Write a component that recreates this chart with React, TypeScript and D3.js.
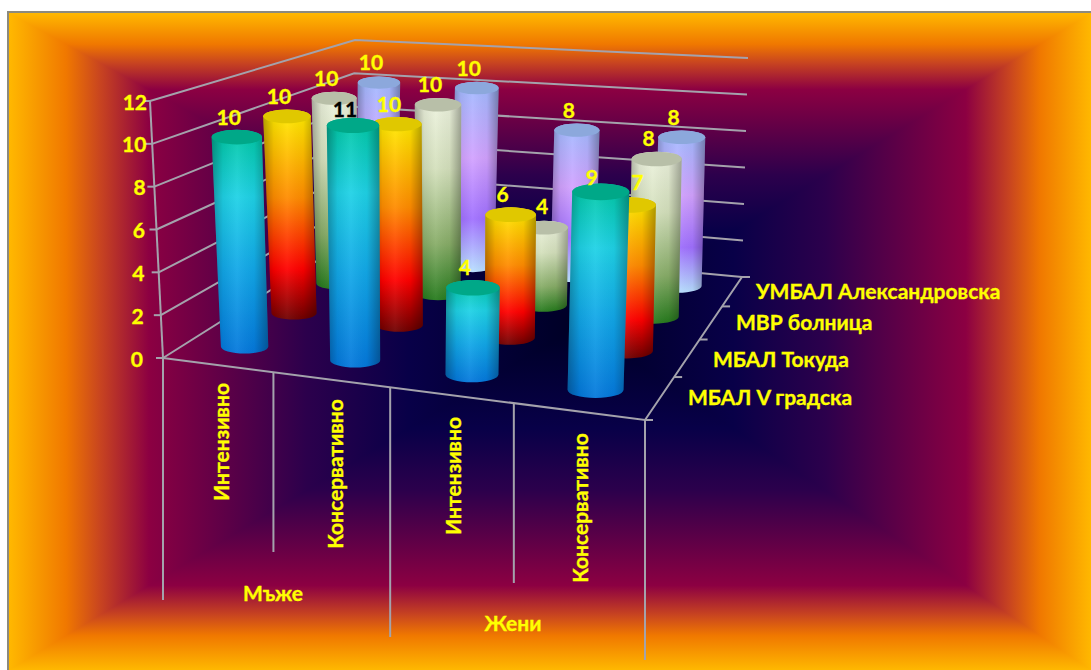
import React from "react";
import * as d3 from "d3";

// Treatment categories along the front of the floor, grouped by sex.
const categories = ["Мъже Интензивно", "Мъже Консервативно", "Жени Интензивно", "Жени Консервативно"];
const categoryLabels = ["Интензивно", "Консервативно", "Интензивно", "Консервативно"];
const groupLabels = ["Мъже", "Жени"];
// Hospitals, front row first.
const hospitals = ["МБАЛ V градска", "МБАЛ Токуда", "МВР болница", "УМБАЛ Александровска"];

const vGradska = [10, 11, 4, 9];
const tokuda = [10, 10, 6, 7];
const mvr = [10, 10, 4, 8];
const umbal = [10, 10, 8, 8];
const seriesValues = [vGradska, tokuda, mvr, umbal];

const valueTicks = [0, 2, 4, 6, 8, 10, 12];

const W = 1091;
const H = 670;

type P = [number, number];

// Maps the unit square onto a quad given as (0,0), (1,0), (1,1), (0,1).
function quadMap(q: P[]) {
  const [[x0, y0], [x1, y1], [x2, y2], [x3, y3]] = q;
  const dx1 = x1 - x2, dx2 = x3 - x2, sx = x0 - x1 + x2 - x3;
  const dy1 = y1 - y2, dy2 = y3 - y2, sy = y0 - y1 + y2 - y3;
  const den = dx1 * dy2 - dx2 * dy1;
  const g = (sx * dy2 - dx2 * sy) / den;
  const h = (dx1 * sy - sx * dy1) / den;
  const a = x1 - x0 + g * x1, b = x3 - x0 + h * x3;
  const d = y1 - y0 + g * y1, e = y3 - y0 + h * y3;
  return (u: number, v: number): P => {
    const w = g * u + h * v + 1;
    return [(a * u + b * v + x0) / w, (d * u + e * v + y0) / w];
  };
}

// The plot box: floor and ceiling corners in the camera's view.
const floorQuad: P[] = [[163, 358], [645, 420], [742, 277], [350, 240]];
const ceilQuad: P[] = [[150, 101], [656, 148], [748, 58], [355, 40]];
const floorMap = quadMap(floorQuad);
const ceilPerspective = quadMap(ceilQuad);

// The ceiling foreshortens horizontally far less than its outline suggests,
// so its x is mostly bilinear while its y stays projective.
const ceilMap = (u: number, v: number): P => {
  const [px, py] = ceilPerspective(u, v);
  const left = ceilQuad[0][0] + (ceilQuad[3][0] - ceilQuad[0][0]) * v;
  const right = ceilQuad[1][0] + (ceilQuad[2][0] - ceilQuad[1][0]) * v;
  return [0.3 * px + 0.7 * (left + (right - left) * u), py];
};

const uScale = d3.scaleBand<string>().domain(categories).range([0, 1]);
const vScale = d3.scaleBand<string>().domain(hospitals).range([0, 1]);
const hScale = d3.scaleLinear().domain([0, 12]).range([0, 1]);
const tickLabelX = d3.scaleLinear().domain([0, 12]).range([143, 147]);

function project(u: number, v: number, value: number): P {
  const f = floorMap(u, v);
  const c = ceilMap(u, v);
  const t = hScale(value);
  return [f[0] + (c[0] - f[0]) * t, f[1] + (c[1] - f[1]) * t];
}

const line = d3.line<P>();

const columnRadius = 0.055;
const ellipseRatio = 0.29;

const ramps: [number, string][][] = [
  [[0, "#00c8a2"], [0.3, "#1fd2e6"], [0.62, "#12a8e8"], [1, "#0478dc"]],
  [[0, "#fff000"], [0.42, "#ff8c00"], [0.76, "#ff0000"], [1, "#6e0000"]],
  [[0, "#eef3e0"], [0.35, "#d4e0bc"], [0.72, "#88ad68"], [1, "#257a1c"]],
  [[0, "#9fbcff"], [0.4, "#d2a2ff"], [0.72, "#a070ff"], [1, "#b8e0ff"]],
];
const capColors = ["#00a888", "#e0c800", "#b8bfa8", "#8ca8dc"];

// Colour by distance from the frame edge: 0 at the edge, 1 at the centre.
const frameStops: [number, string][] = [
  [0, "#ffb800"],
  [0.1, "#f07800"],
  [0.16, "#c84420"],
  [0.245, "#8c0042"],
  [0.52, "#2c004c"],
  [0.7, "#080048"],
  [0.95, "#00002a"],
  [1, "#000024"],
];

const frame = { x0: 9, y0: 13, x1: W, y1: H, cx: 580, cy: 325 };

const labelFont = {
  fontFamily: "Lato, 'Open Sans', sans-serif",
  fontWeight: 700,
  stroke: "currentColor",
  strokeWidth: 0.35,
};
const yellow = "#ffff00";
const gridColor = "#a4a2ac";

// Where a data label sits relative to the top of its column.
const labelShift = (s: number, c: number): P => {
  if (s === 1 && c === 3) return [8, -24];
  if (s === 2 && c === 2) return [-2, -22];
  if (s === 0 && c === 1) return [-8, -17];
  if (s === 0 && c === 3) return [-9, -15];
  return [-8, -21];
};

const categoryLabelPos: P[] = [[220, 442], [334, 474], [452, 476], [579, 508]];
const separators: [number, number][] = [[0, 600], [0.25, 552], [0.5, 637], [0.75, 583], [1, 660]];
const groupPos: P[] = [[273, 592], [513, 622]];
const hospitalPos: P[] = [[688, 396], [713, 358], [736, 321], [756, 290]];

export default function App() {
  const { x0, y0, x1, y1, cx, cy } = frame;

  const sides = [
    { id: "left", pts: [[x0, y0], [cx, cy], [x0, y1]], from: [x0, cy], to: [cx, cy] },
    { id: "right", pts: [[x1, y0], [cx, cy], [x1, y1]], from: [x1, cy], to: [cx, cy] },
    { id: "top", pts: [[x0, y0], [cx, cy], [x1, y0]], from: [cx, y0], to: [cx, cy] },
    { id: "bottom", pts: [[x0, y1], [cx, cy], [x1, y1]], from: [cx, y1], to: [cx, cy] },
  ];

  const columns = seriesValues
    .flatMap((vals, s) =>
      vals.map((value, c) => {
        const u = uScale(categories[c])! + uScale.bandwidth() / 2;
        const v = vScale(hospitals[s])! + vScale.bandwidth() / 2;
        const base = project(u, v, 0);
        const top = project(u, v, value);
        const rBase = (project(u + columnRadius, v, 0)[0] - project(u - columnRadius, v, 0)[0]) / 2;
        const rTop = (project(u + columnRadius, v, value)[0] - project(u - columnRadius, v, value)[0]) / 2;
        return { s, c, value, base, top, rBase, rTop };
      })
    )
    .sort((a, b) => b.s - a.s || a.c - b.c);

  return (
    <svg
      width={W}
      height={H}
      viewBox={`0 0 ${W} ${H}`}
      style={{ position: "absolute", left: 0, top: 0, display: "block", background: "#fff" }}
    >
      <defs>
        {sides.map((sd) => (
          <linearGradient
            key={sd.id}
            id={`frame-${sd.id}`}
            gradientUnits="userSpaceOnUse"
            x1={sd.from[0]}
            y1={sd.from[1]}
            x2={sd.to[0]}
            y2={sd.to[1]}
          >
            {frameStops.map(([o, col]) => (
              <stop key={o} offset={o} stopColor={col} />
            ))}
          </linearGradient>
        ))}
        {ramps.map((ramp, i) => (
          <linearGradient key={i} id={`ramp-${i}`} x1="0" y1="0" x2="0" y2="1">
            {ramp.map(([o, col]) => (
              <stop key={o} offset={o} stopColor={col} />
            ))}
          </linearGradient>
        ))}
        <linearGradient id="roundness" x1="0" y1="0" x2="1" y2="0">
          <stop offset="0" stopColor="#000" stopOpacity={0.3} />
          <stop offset="0.2" stopColor="#000" stopOpacity={0.06} />
          <stop offset="0.45" stopColor="#fff" stopOpacity={0.06} />
          <stop offset="0.75" stopColor="#000" stopOpacity={0.04} />
          <stop offset="1" stopColor="#000" stopOpacity={0.32} />
        </linearGradient>
      </defs>

      {/* Frame and its rectangular gradient, one triangle per side */}
      <rect x={x0 - 2} y={y0 - 2} width={W} height={H} fill="#8c8a7e" />
      {sides.map((sd) => (
        <path
          key={sd.id}
          d={line(sd.pts as P[])! + "Z"}
          fill={`url(#frame-${sd.id})`}
          shapeRendering="crispEdges"
        />
      ))}

      {/* Gridlines on the side and back walls */}
      <g fill="none" stroke={gridColor} strokeWidth={2}>
        {valueTicks.map((t) => (
          <path key={t} d={line([project(0, 0, t), project(0, 1, t), project(1, 1, t)])!} />
        ))}
        <path d={line([project(0, 0, 0), project(0, 0, 12)])!} />
        {valueTicks.map((t) => {
          const p = project(0, 0, t);
          return <path key={`tick-${t}`} d={line([[p[0] - 7, p[1]], p])!} />;
        })}
        {/* Floor edges, separators under the front edge, depth ticks */}
        <path d={line([project(0, 0, 0), project(1, 0, 0), project(1, 1, 0)])!} />
        {separators.map(([u, end]) => {
          const p = project(u, 0, 0);
          return <path key={u} d={line([p, [p[0], end]])!} />;
        })}
        {d3.range(0, 5).map((i) => {
          const p = project(1, i / 4, 0);
          return <path key={i} d={line([p, [p[0] + 8, p[1]]])!} />;
        })}
      </g>

      {/* Columns, back row first */}
      {columns.map(({ s, c, base, top, rBase, rTop }) => {
        const ryB = rBase * ellipseRatio;
        const ryT = rTop * ellipseRatio;
        const d =
          `M${top[0] - rTop},${top[1]}` +
          `L${base[0] - rBase},${base[1]}` +
          `A${rBase},${ryB} 0 0 0 ${base[0] + rBase},${base[1]}` +
          `L${top[0] + rTop},${top[1]}` +
          `A${rTop},${ryT} 0 0 0 ${top[0] - rTop},${top[1]}Z`;
        return (
          <g key={`${s}-${c}`}>
            <path d={d} fill={`url(#ramp-${s})`} />
            <path d={d} fill="url(#roundness)" />
            <ellipse cx={top[0]} cy={top[1]} rx={rTop} ry={ryT} fill={capColors[s]} />
          </g>
        );
      })}

      {/* Data labels */}
      <g {...labelFont} fontSize={21} textAnchor="middle" dominantBaseline="central">
        {columns.map(({ s, c, value, top }) => {
          const [dx, dy] = labelShift(s, c);
          const color = value === 11 ? "#000" : yellow;
          return (
            <text key={`${s}-${c}`} x={top[0] + dx} y={top[1] + dy} fill={color} color={color}>
              {value}
            </text>
          );
        })}
      </g>

      {/* Value axis labels */}
      <g {...labelFont} fontSize={21} fill={yellow} color={yellow} textAnchor="end" dominantBaseline="central">
        {valueTicks.map((t) => (
          <text key={t} x={tickLabelX(t)} y={project(0, 0, t)[1]}>
            {t}
          </text>
        ))}
      </g>

      {/* Category, group and hospital labels */}
      <g {...labelFont} fontSize={21} fill={yellow} color={yellow}>
        {categoryLabels.map((label, i) => (
          <text
            key={i}
            transform={`translate(${categoryLabelPos[i][0]},${categoryLabelPos[i][1]}) rotate(-90)`}
            textAnchor="middle"
            dominantBaseline="central"
          >
            {label}
          </text>
        ))}
        {groupLabels.map((label, i) => (
          <text key={label} x={groupPos[i][0]} y={groupPos[i][1]} textAnchor="middle" dominantBaseline="central">
            {label}
          </text>
        ))}
        {hospitals.map((label, i) => (
          <text key={label} x={hospitalPos[i][0]} y={hospitalPos[i][1]} dominantBaseline="central">
            {label}
          </text>
        ))}
      </g>
    </svg>
  );
}
